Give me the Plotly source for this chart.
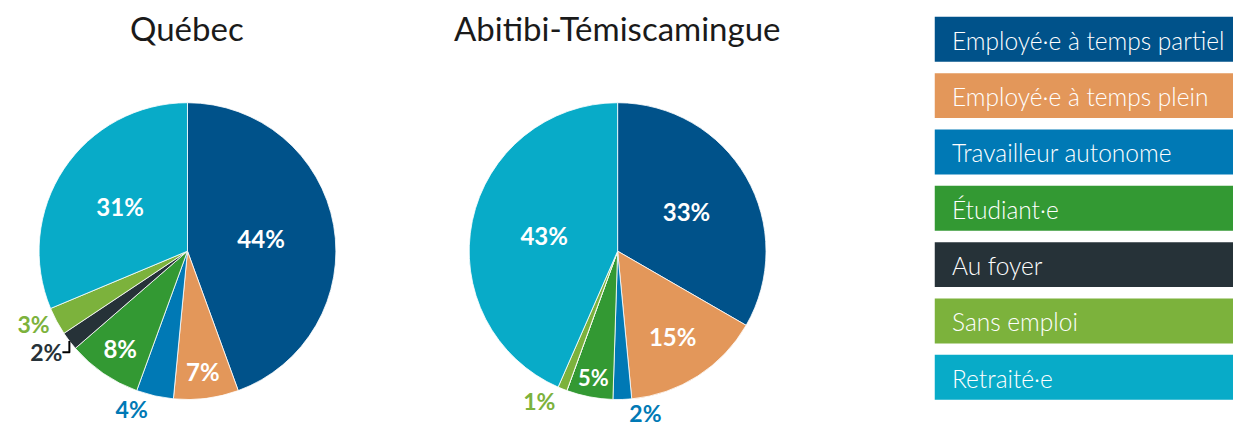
import plotly.graph_objects as go

categories = ["Employé·e à temps partiel", "Employé·e à temps plein", "Travailleur autonome",
              "Étudiant·e", "Au foyer", "Sans emploi", "Retraité·e"]
quebec = [44, 7, 4, 8, 2, 3, 31]
abitibi = [33, 15, 2, 5, 0, 1, 43]
titles = ["Québec", "Abitibi-Témiscamingue"]
colors = ["#00528a", "#e3975a", "#0079b5", "#339933", "#263238", "#7cb23c", "#08abc8"]

OFF = 8  # default page body margin
W, H = 1241 - OFF, 432 - OFF
FONT = "Lato"


def px_x(x):
    return (x - OFF) / W


def px_y(y):
    return 1 - (y - OFF) / H


fig = go.Figure()
centers = [178, 612]
R = 152
CY = 257
for vals, cx, name in zip([quebec, abitibi], centers, titles):
    texts = [f"{v}%" if v > 0 else "" for v in vals]
    pos = ["inside" if v >= 5 else "outside" for v in vals]
    fig.add_trace(go.Pie(
        labels=categories, values=vals, text=texts, textinfo="text",
        textposition=pos, sort=False, direction="clockwise", rotation=0,
        marker=dict(colors=colors, line=dict(color="white", width=0.8)),
        insidetextfont=dict(color="white", size=24, family=FONT, weight="bold"),
        outsidetextfont=dict(color=colors, size=23, family=FONT, weight="bold"),
        insidetextorientation="horizontal",
        domain=dict(x=[px_x(cx - R), px_x(cx + R)], y=[px_y(CY + R), px_y(CY - R)]),
        showlegend=False, name=name, hoverinfo="label+text",
    ))

annotations = []
for t, cx in zip(titles, centers):
    annotations.append(dict(text=t, x=px_x(cx), y=px_y(28), xref="paper", yref="paper",
                            showarrow=False, xanchor="center", yanchor="middle",
                            font=dict(size=33, family=FONT, color="#1a1a1a")))

shapes = []
box_top0, box_step, box_h = 17, 57.7, 46
for i, (cat, col) in enumerate(zip(categories, colors)):
    y0 = box_top0 + i * box_step
    shapes.append(dict(type="rect", xref="paper", yref="paper",
                       x0=px_x(932), x1=1.0, y0=px_y(y0 + box_h), y1=px_y(y0),
                       fillcolor=col, line=dict(width=0)))
    annotations.append(dict(text=cat, x=px_x(947), y=px_y(y0 + box_h / 2 + 1), xref="paper", yref="paper",
                            showarrow=False, xanchor="left", yanchor="middle",
                            font=dict(size=24.5, family=FONT, color="white", weight=300)))

fig.update_layout(width=W, height=H, margin=dict(l=0, r=0, t=0, b=0),
                  paper_bgcolor="white", plot_bgcolor="white",
                  shapes=shapes, annotations=annotations)
fig.write_html("out.html")
